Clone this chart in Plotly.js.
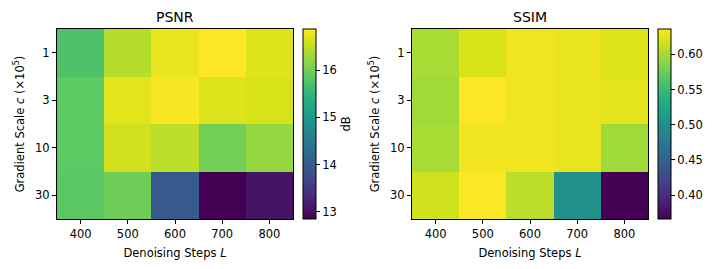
<!DOCTYPE html>
<html><head><meta charset="utf-8">
<script src="https://cdn.plot.ly/plotly-3.0.1.min.js"></script>
<style>body{margin:0;padding:0;background:#fff}#chart{width:718px;height:269px}</style>
</head><body><div id="chart"></div>
<script>
const steps = ['400','500','600','700','800'];
const scales = ['1','3','10','30'];
const psnr = [
  [15.74, 16.43, 16.75, 16.87, 16.67],
  [15.87, 16.71, 16.83, 16.67, 16.63],
  [15.87, 16.59, 16.47, 16.00, 16.23],
  [15.85, 15.99, 13.98, 12.85, 13.05]
];
const ssim = [
  [0.601, 0.620, 0.631, 0.628, 0.623],
  [0.598, 0.636, 0.631, 0.628, 0.625],
  [0.601, 0.631, 0.631, 0.628, 0.598],
  [0.617, 0.635, 0.609, 0.501, 0.366]
];
const psnrTicks = [13, 14, 15, 16];
const ssimTicks = [0.40, 0.45, 0.50, 0.55, 0.60];

const FONT = 'DejaVu Sans, sans-serif';
const FS = 11.5;
const yT = 1 - 29/269, yB = 1 - 219/269;
const cbCommon = {thickness: 13, thicknessmode: 'pixels', len: 190, lenmode: 'pixels',
  y: (yT + yB)/2, yanchor: 'middle', xanchor: 'left', xpad: 0, ypad: 0,
  outlinewidth: 1, outlinecolor: '#000', ticks: 'outside', ticklen: 4, tickwidth: 1,
  tickcolor: '#000', tickfont: {family: FONT, size: FS, color: '#000'}};

const data = [
  {type: 'heatmap', x: steps, y: scales, z: psnr, colorscale: 'Viridis',
   zmin: 12.85, zmax: 16.87, xaxis: 'x', yaxis: 'y', hoverinfo: 'skip',
   colorbar: Object.assign({}, cbCommon, {x: 303/718, tickvals: psnrTicks,
     title: {text: 'dB', side: 'right', font: {family: FONT, size: FS, color: '#000'}}})},
  {type: 'heatmap', x: steps, y: scales, z: ssim, colorscale: 'Viridis',
   zmin: 0.366, zmax: 0.636, xaxis: 'x2', yaxis: 'y2', hoverinfo: 'skip',
   colorbar: Object.assign({}, cbCommon, {x: 658/718, tickvals: ssimTicks, tickformat: '.2f'})}
];

function xax(dom, anchor) {
  return {domain: dom, anchor: anchor, type: 'category', showline: true, mirror: true,
    linecolor: '#000', linewidth: 1, ticks: 'outside', ticklen: 4, tickcolor: '#000',
    showgrid: false, zeroline: false, tickfont: {family: FONT, size: FS, color: '#000'},
    title: {text: 'Denoising Steps <i>L</i>', font: {family: FONT, size: FS, color: '#000'}, standoff: 9}};
}
function yax(anchor) {
  return {domain: [yB, yT], anchor: anchor, type: 'category', autorange: 'reversed',
    showline: true, mirror: true, linecolor: '#000', linewidth: 1, ticks: 'outside',
    ticklen: 4, tickcolor: '#000', showgrid: false, zeroline: false,
    tickfont: {family: FONT, size: FS, color: '#000'},
    title: {text: 'Gradient Scale <i>c</i> (×10<sup>5</sup>)', font: {family: FONT, size: FS, color: '#000'}, standoff: 8}};
}

const layout = {
  width: 718, height: 269, margin: {l: 0, r: 0, t: 0, b: 0},
  paper_bgcolor: '#fff', plot_bgcolor: '#fff', showlegend: false,
  xaxis: xax([57/718, 293/718], 'y'),
  yaxis: yax('x'),
  xaxis2: xax([412/718, 648/718], 'y2'),
  yaxis2: yax('x2'),
  annotations: [
    {text: 'PSNR', x: 175/718, y: 1 - 17/269, xref: 'paper', yref: 'paper', showarrow: false,
     xanchor: 'center', yanchor: 'middle', font: {family: FONT, size: 14, color: '#000'}},
    {text: 'SSIM', x: 530/718, y: 1 - 17/269, xref: 'paper', yref: 'paper', showarrow: false,
     xanchor: 'center', yanchor: 'middle', font: {family: FONT, size: 14, color: '#000'}}
  ]
};
Plotly.newPlot('chart', data, layout, {staticPlot: true, displayModeBar: false});
</script></body></html>
